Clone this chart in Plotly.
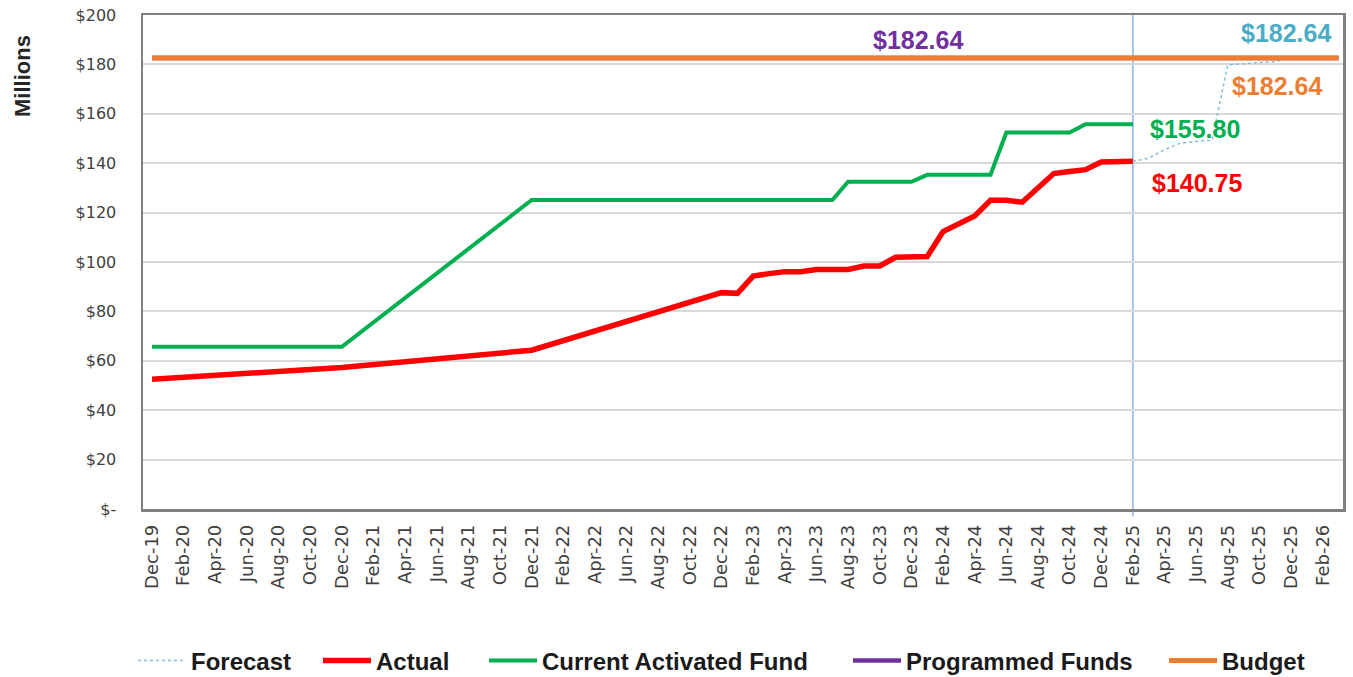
import plotly.graph_objects as go

# ---------------- data ----------------
months = [
    "Dec-19",
    "Jan-20", "Feb-20", "Mar-20", "Apr-20", "May-20", "Jun-20", "Jul-20", "Aug-20", "Sep-20", "Oct-20", "Nov-20", "Dec-20",
    "Jan-21", "Feb-21", "Mar-21", "Apr-21", "May-21", "Jun-21", "Jul-21", "Aug-21", "Sep-21", "Oct-21", "Nov-21", "Dec-21",
    "Jan-22", "Feb-22", "Mar-22", "Apr-22", "May-22", "Jun-22", "Jul-22", "Aug-22", "Sep-22", "Oct-22", "Nov-22", "Dec-22",
    "Jan-23", "Feb-23", "Mar-23", "Apr-23", "May-23", "Jun-23", "Jul-23", "Aug-23", "Sep-23", "Oct-23", "Nov-23", "Dec-23",
    "Jan-24", "Feb-24", "Mar-24", "Apr-24", "May-24", "Jun-24", "Jul-24", "Aug-24", "Sep-24", "Oct-24", "Nov-24", "Dec-24",
    "Jan-25", "Feb-25", "Mar-25", "Apr-25", "May-25", "Jun-25", "Jul-25", "Aug-25", "Sep-25", "Oct-25", "Nov-25", "Dec-25",
    "Jan-26", "Feb-26", "Mar-26",
]
tick_months = months[::2]

actual_months = ["Dec-19", "Dec-20", "Dec-21", "Dec-22", "Jan-23", "Feb-23", "Mar-23", "Apr-23", "May-23",
                 "Jun-23", "Jul-23", "Aug-23", "Sep-23", "Oct-23", "Nov-23", "Dec-23", "Jan-24", "Feb-24",
                 "Mar-24", "Apr-24", "May-24", "Jun-24", "Jul-24", "Aug-24", "Sep-24", "Oct-24", "Nov-24",
                 "Dec-24", "Jan-25", "Feb-25"]
actual_values = [52.5, 57.3, 64.3, 87.6, 87.3, 94.3, 95.3, 96.1, 96.1,
                 97.0, 97.0, 97.0, 98.4, 98.4, 101.9, 102.0, 102.2, 112.3,
                 115.7, 118.6, 125.0, 125.0, 124.2, 130.0, 135.8, 136.6, 137.4,
                 140.5, 140.75, 140.75]

activated_months = ["Dec-19", "Dec-20", "Dec-21", "Jul-23", "Aug-23", "Dec-23", "Jan-24", "May-24",
                    "Jun-24", "Oct-24", "Nov-24", "Feb-25"]
activated_values = [65.7, 65.7, 125.1, 125.1, 132.5, 132.5, 135.3, 135.3,
                    152.4, 152.4, 155.80, 155.80]

forecast_months = ["Feb-25", "Mar-25", "Apr-25", "May-25", "Jun-25", "Jul-25", "Aug-25", "Nov-25", "Dec-25"]
forecast_values = [140.75, 142.0, 145.5, 148.1, 148.8, 149.3, 179.8, 181.2, 182.64]

programmed_months = ["Dec-19", "Mar-26"]
programmed_values = [182.64, 182.64]
programmed_label_month = "Jan-24"

budget_months = ["Dec-19", "Mar-26"]
budget_values = [182.64, 182.64]

status_month = "Feb-25"

y_ticks = [0, 20, 40, 60, 80, 100, 120, 140, 160, 180, 200]
y_tick_labels = ["$-", "$20", "$40", "$60", "$80", "$100", "$120", "$140", "$160", "$180", "$200"]

# ---------------- style ----------------
C_FORECAST = "#4BACC6"
C_FORECAST_LINE = "#7FBFD8"
C_ACTUAL = "#FF0000"
C_ACTIVATED = "#00B050"
C_PROGRAMMED = "#7030A0"
C_BUDGET = "#ED7D31"
LABEL_FONT = "Liberation Sans"

W, H = 1353, 677
# plot area in page pixels (body margin removed via post_script)
PAGE_L, PAGE_R, PAGE_T, PAGE_B = 143, 1343, 15, 509
PLOT_L = PAGE_L
PLOT_T = PAGE_T
PLOT_R = W - PAGE_R
PLOT_B = H - PAGE_B
PW = PAGE_R - PAGE_L
PH = PAGE_B - PAGE_T

fig = go.Figure()
fig.add_trace(go.Scatter(x=forecast_months, y=forecast_values, name="Forecast", mode="lines",
                         line=dict(color=C_FORECAST_LINE, width=1.5, dash="dot"), legend="legend"))
fig.add_trace(go.Scatter(x=actual_months, y=actual_values, name="Actual", mode="lines",
                         line=dict(color=C_ACTUAL, width=5.5), legend="legend2"))
fig.add_trace(go.Scatter(x=activated_months, y=activated_values, name="Current Activated Fund", mode="lines",
                         line=dict(color=C_ACTIVATED, width=4), legend="legend3"))
fig.add_trace(go.Scatter(x=programmed_months, y=programmed_values, name="Programmed Funds", mode="lines",
                         line=dict(color=C_PROGRAMMED, width=4.5), legend="legend4"))
fig.add_trace(go.Scatter(x=budget_months, y=budget_values, name="Budget", mode="lines",
                         line=dict(color=C_BUDGET, width=5), legend="legend5"))


def money(v):
    return f"${v:,.2f}"


def label_font(c):
    return dict(family=LABEL_FONT, size=25, color=c, weight="bold")


annotations = [
    dict(x=actual_months[-1], y=actual_values[-1], text=money(actual_values[-1]),
         xanchor="left", yanchor="middle", xshift=17, yshift=-22, font=label_font(C_ACTUAL)),
    dict(x=activated_months[-1], y=activated_values[-1], text=money(activated_values[-1]),
         xanchor="left", yanchor="middle", xshift=15, yshift=-5, font=label_font(C_ACTIVATED)),
    dict(x=budget_months[-1], y=budget_values[-1], text=money(budget_values[-1]),
         xanchor="right", yanchor="middle", xshift=-15, yshift=-28, font=label_font(C_BUDGET)),
    dict(x=forecast_months[-1], y=forecast_values[-1], text=money(forecast_values[-1]),
         xanchor="center", yanchor="middle", xshift=-5, yshift=25, font=label_font(C_FORECAST)),
    dict(x=programmed_label_month, y=programmed_values[0], text=money(programmed_values[0]),
         xanchor="center", yanchor="middle", xshift=-9, yshift=18, font=label_font(C_PROGRAMMED)),
]
for a in annotations:
    a.update(xref="x", yref="y", showarrow=False)

annotations.append(dict(text="Millions", xref="paper", yref="paper",
                        x=(22 - PAGE_L) / PW, y=(PAGE_B - 76) / PH,
                        xanchor="center", yanchor="middle", textangle=-90, showarrow=False,
                        font=dict(family=LABEL_FONT, size=22, color="#262626", weight="bold")))

fig.add_shape(type="line", xref="x", yref="paper", x0=status_month, x1=status_month,
              y0=-0.015, y1=1.005, line=dict(color="#8DB3E2", width=1.5), layer="between")

legend_font = dict(family=LABEL_FONT, size=24, color="#1a1a1a", weight="bold")
legend_y = (PAGE_B - 661) / PH
legend_starts = [137, 322, 488, 852, 1168]
legend_keys = ["legend", "legend2", "legend3", "legend4", "legend5"]
legend_layout = {}
for key, px in zip(legend_keys, legend_starts):
    legend_layout[key] = dict(orientation="h", x=(px - 4 - PAGE_L) / PW, xanchor="left",
                              y=legend_y, yanchor="middle", font=legend_font, itemwidth=48,
                              bgcolor="rgba(0,0,0,0)")

fig.update_layout(
    width=W, height=H,
    margin=dict(l=PLOT_L, r=PLOT_R, t=PLOT_T, b=PLOT_B, autoexpand=False),
    paper_bgcolor="white", plot_bgcolor="white",
    annotations=annotations,
    showlegend=True,
    hovermode=False,
    **legend_layout,
)
fig.update_xaxes(type="category", categoryorder="array", categoryarray=months,
                 range=[-0.57, 75.28], tickmode="array", tickvals=tick_months, ticktext=tick_months,
                 tickangle=-90, tickfont=dict(family="DejaVu Sans", size=18, color="#404040"),
                 showgrid=False, showline=True, linecolor="#808080", linewidth=2.5, mirror=True,
                 ticks="", ticklabelstandoff=6, zeroline=False, automargin=False,
                 ticklabeloverflow="allow")
fig.update_yaxes(range=[0, 200], tickmode="array", tickvals=y_ticks, ticktext=y_tick_labels,
                 tickfont=dict(family="DejaVu Sans", size=16, color="#404040"),
                 showgrid=True, gridcolor="#D9D9D9", gridwidth=2,
                 showline=True, linecolor="#808080", linewidth=2.5, mirror=True,
                 ticks="", ticklabelstandoff=21, zeroline=False, automargin=False,
                 ticklabeloverflow="allow")

fig.write_html("out.html",
               config={"displayModeBar": False, "staticPlot": True},
               post_script="document.body.style.margin='0';document.body.style.overflow='hidden';")
